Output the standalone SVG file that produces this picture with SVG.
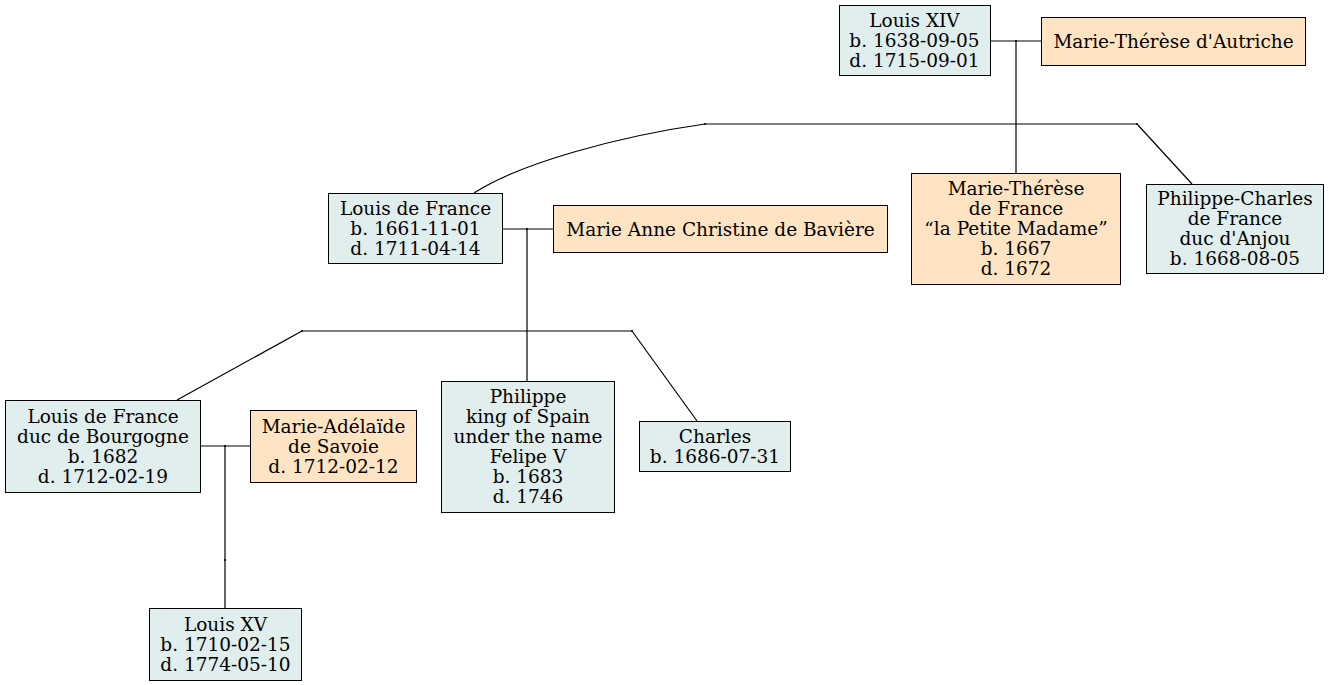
<svg xmlns="http://www.w3.org/2000/svg" width="1329" height="685" viewBox="0 0 1329 685">
<style>
.m rect{fill:#e0eeee;stroke:#000;stroke-width:1}
.f rect{fill:#ffe4c4;stroke:#000;stroke-width:1}
text{font-family:"DejaVu Serif","Liberation Serif",serif;font-size:18.5px;fill:#000;text-anchor:middle}
#connectors path{fill:none;stroke:#000;stroke-width:1.2}
#connectors circle{fill:#000}
</style>
<rect width="1329" height="685" fill="#fff"/>
<g id="connectors">
<path d="M990,41 H1041"/>
<path d="M1016,41 V173"/>
<path d="M705,124 H1137"/>
<path d="M705,124 C620,136 520,163 474,193"/>
<path d="M1137,124 L1192,184"/>
<path d="M502,229 H553"/>
<path d="M527,229 V381"/>
<path d="M302,331 H632"/>
<path d="M302,331 L177,400"/>
<path d="M632,331 L697,421"/>
<path d="M200,446 H250"/>
<path d="M225,446 V608"/>
<circle cx="1016" cy="41" r="1"/>
<circle cx="705" cy="124" r="1"/>
<circle cx="1137" cy="124" r="1"/>
<circle cx="527" cy="229" r="1"/>
<circle cx="302" cy="331" r="1"/>
<circle cx="632" cy="331" r="1"/>
<circle cx="225" cy="446" r="1"/>
<circle cx="225" cy="560" r="1"/>
</g>
<g id="louis_xiv" class="m"><rect x="839.5" y="5.5" width="151" height="70"/>
<text x="914.5" y="26.5">Louis XIV</text><text x="914.5" y="46.5">b. 1638-09-05</text><text x="914.5" y="66.5">d. 1715-09-01</text></g>
<g id="marie_therese_autriche" class="f"><rect x="1041.5" y="17.5" width="264" height="48"/>
<text x="1173.5" y="47.5">Marie-Thérèse d'Autriche</text></g>
<g id="marie_therese_france" class="f"><rect x="911.5" y="173.5" width="209" height="111"/>
<text x="1016" y="194.5">Marie-Thérèse</text><text x="1016" y="214.5">de France</text><text x="1016" y="234.5">“la Petite Madame”</text><text x="1016" y="254.5">b. 1667</text><text x="1016" y="274.5">d. 1672</text></g>
<g id="philippe_charles" class="m"><rect x="1146.5" y="184.5" width="177" height="89"/>
<text x="1235" y="204.5">Philippe-Charles</text><text x="1235" y="224.5">de France</text><text x="1235" y="244.5">duc d'Anjou</text><text x="1235" y="264.5">b. 1668-08-05</text></g>
<g id="louis_de_france" class="m"><rect x="328.5" y="193.5" width="174" height="70"/>
<text x="415.5" y="214.5">Louis de France</text><text x="415.5" y="234.5">b. 1661-11-01</text><text x="415.5" y="254.5">d. 1711-04-14</text></g>
<g id="marie_anne" class="f"><rect x="553.5" y="205.5" width="334" height="47"/>
<text x="720.5" y="235.5">Marie Anne Christine de Bavière</text></g>
<g id="bourgogne" class="m"><rect x="5.5" y="400.5" width="195" height="92"/>
<text x="103" y="422.5">Louis de France</text><text x="103" y="442.5">duc de Bourgogne</text><text x="103" y="462.5">b. 1682</text><text x="103" y="482.5">d. 1712-02-19</text></g>
<g id="marie_adelaide" class="f"><rect x="250.5" y="410.5" width="166" height="72"/>
<text x="333.5" y="432.5">Marie-Adélaïde</text><text x="333.5" y="452.5">de Savoie</text><text x="333.5" y="472.5">d. 1712-02-12</text></g>
<g id="philippe" class="m"><rect x="441.5" y="381.5" width="173" height="131"/>
<text x="528" y="402.5">Philippe</text><text x="528" y="422.5">king of Spain</text><text x="528" y="442.5">under the name</text><text x="528" y="462.5">Felipe V</text><text x="528" y="482.5">b. 1683</text><text x="528" y="502.5">d. 1746</text></g>
<g id="charles" class="m"><rect x="639.5" y="421.5" width="151" height="50"/>
<text x="715" y="442.5">Charles</text><text x="715" y="462.5">b. 1686-07-31</text></g>
<g id="louis_xv" class="m"><rect x="149.5" y="608.5" width="152" height="72"/>
<text x="225.5" y="630.5">Louis XV</text><text x="225.5" y="650.5">b. 1710-02-15</text><text x="225.5" y="670.5">d. 1774-05-10</text></g>
</svg>
